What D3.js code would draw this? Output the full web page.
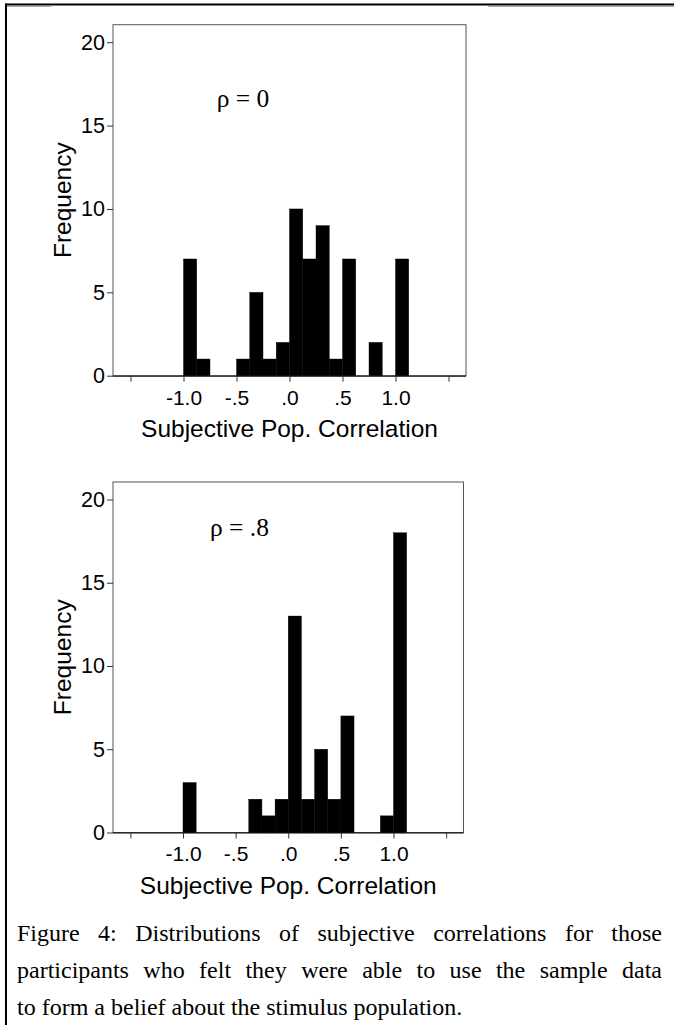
<!DOCTYPE html>
<html>
<head>
<meta charset="utf-8">
<script src="https://cdn.jsdelivr.net/npm/d3@7"></script>
<style>
	body { margin: 0; padding: 0; background: #fff; }
	svg { display: block; }
	.tick text { font-family: "Liberation Sans", Arial, sans-serif; }
</style>
</head>
<body>
<svg id="fig" width="674" height="1025"></svg>
<script>
// ****** Data
// lower edge of each histogram bin, bin width .125
var binStarts = [-1.0, -0.875, -0.75, -0.625, -0.5, -0.375, -0.25, -0.125, 0, 0.125, 0.25, 0.375, 0.5, 0.625, 0.75, 0.875, 1.0];
var binWidth = 0.125;
var freqRho0 = [7, 1, 0, 0, 1, 5, 1, 2, 10, 7, 9, 1, 7, 0, 2, 0, 7];
var freqRho8 = [3, 0, 0, 0, 0, 2, 1, 2, 13, 2, 5, 2, 7, 0, 0, 1, 18];
var xTickValues = [-1.5, -1.0, -0.5, 0, 0.5, 1.0, 1.5];
var xTickLabels = ['', '-1.0', '-.5', '.0', '.5', '1.0', ''];
var yTickValues = [0, 5, 10, 15, 20];
var panelLabels = ['\u03c1 = 0', '\u03c1 = .8'];
var captionLines = [
	'Figure 4: Distributions of subjective correlations for those',
	'participants who felt they were able to use the sample data',
	'to form a belief about the stimulus population.'
];

var sans = '"Liberation Sans", Arial, sans-serif';
var serif = '"Liberation Serif", "Times New Roman", serif';

var svg = d3.select('#fig');
svg.append('rect').attr('width', 674).attr('height', 1025).attr('fill', '#fff');

// ****** page frame (scanned border)
svg.append('line').attr('x1', 5).attr('x2', 674).attr('y1', 4.5).attr('y2', 4.5)
	.attr('stroke', '#000').attr('stroke-width', 2);
svg.append('line').attr('x1', 6).attr('x2', 51).attr('y1', 6.5).attr('y2', 6.5)
	.attr('stroke', '#aaa').attr('stroke-width', 1);
svg.append('line').attr('x1', 488).attr('x2', 674).attr('y1', 6.5).attr('y2', 6.5)
	.attr('stroke', '#aaa').attr('stroke-width', 1);
svg.append('line').attr('x1', 6).attr('x2', 6).attr('y1', 3.5).attr('y2', 1025)
	.attr('stroke', '#000').attr('stroke-width', 2);

var panels = [
	{ values: freqRho0, label: panelLabels[0], left: 113, right: 466, top: 24.7, bottom: 375.7, labelX: 216.7, labelY: 107.3 },
	{ values: freqRho8, label: panelLabels[1], left: 113, right: 463.5, top: 482, bottom: 832.5, labelX: 210, labelY: 535.7 }
];

function drawPanel(p) {
	var g = svg.append('g');
	var x = d3.scaleLinear().domain([-1.665, 1.665]).range([p.left, p.right]);
	var y = d3.scaleLinear().domain([0, 21.05]).range([p.bottom, p.top]);

	// box
	g.append('rect')
		.attr('x', p.left).attr('y', p.top)
		.attr('width', p.right - p.left).attr('height', p.bottom - p.top)
		.attr('fill', 'none').attr('stroke', '#555').attr('stroke-width', 1);

	// bars
	g.append('g').selectAll('rect')
		.data(binStarts.map(function(b, i) { return { b: b, v: p.values[i] }; }).filter(function(d) { return d.v > 0; }))
		.enter().append('rect')
		.attr('x', function(d) { return x(d.b); })
		.attr('width', function(d) { return x(d.b + binWidth) - x(d.b); })
		.attr('y', function(d) { return y(d.v); })
		.attr('height', function(d) { return y(0) - y(d.v); })
		.attr('fill', '#000')
		.attr('stroke', '#000').attr('stroke-width', 0.4);

	// y axis
	var yAxis = d3.axisLeft(y).tickValues(yTickValues).tickSize(6).tickPadding(2);
	var ya = g.append('g').attr('transform', 'translate(' + p.left + ',0)').call(yAxis);
	ya.select('.domain').remove();
	ya.selectAll('line').attr('stroke', '#333');
	ya.selectAll('text').attr('font-size', 21.5).attr('fill', '#000');

	// x axis
	var xAxis = d3.axisBottom(x).tickValues(xTickValues).tickSize(6).tickPadding(8)
		.tickFormat(function(d, i) { return xTickLabels[i]; });
	var xa = g.append('g').attr('transform', 'translate(0,' + p.bottom + ')').call(xAxis);
	xa.select('.domain').attr('d', 'M' + p.left + ',0.5H' + p.right).attr('stroke', '#000');
	xa.selectAll('line').attr('stroke', '#333');
	xa.selectAll('text').attr('font-size', 21).attr('fill', '#000');

	// titles
	g.append('text')
		.attr('x', (p.left + p.right) / 2).attr('y', p.bottom + 61)
		.attr('text-anchor', 'middle')
		.style('font-family', sans).style('font-size', '24.5px')
		.text('Subjective Pop. Correlation');
	g.append('text')
		.attr('transform', 'translate(71,' + (p.top + p.bottom) / 2 + ') rotate(-90)')
		.attr('text-anchor', 'middle')
		.style('font-family', sans).style('font-size', '24.5px')
		.text('Frequency');

	g.append('text')
		.attr('x', p.labelX).attr('y', p.labelY)
		.style('font-family', serif).style('font-size', '25.5px')
		.text(p.label);
}
panels.forEach(drawPanel);

// ****** caption, justified like the paper
var capLeft = 17, capRight = 662;
captionLines.forEach(function(line, i) {
	var t = svg.append('text')
		.attr('x', capLeft).attr('y', 941 + i * 37)
		.style('font-family', serif).style('font-size', '24px')
		.text(line);
	if (i < captionLines.length - 1) {
		var w = t.node().getComputedTextLength();
		var spaces = line.split(' ').length - 1;
		t.style('word-spacing', ((capRight - capLeft - w) / spaces) + 'px');
	}
});
</script>
</body>
</html>
